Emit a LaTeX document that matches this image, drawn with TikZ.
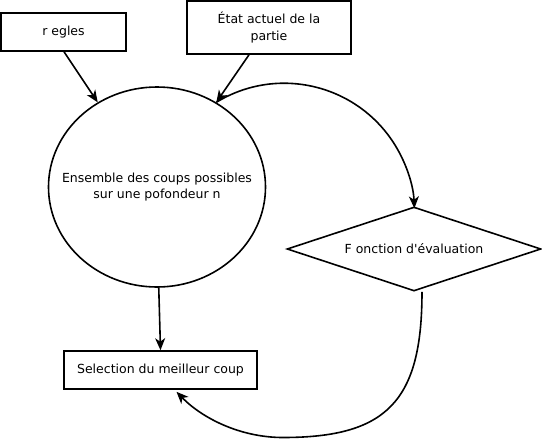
\documentclass[tikz,border=0pt]{standalone}
\usepackage{fontspec}
\newfontfamily\dv{DejaVu Sans}
\usetikzlibrary{shapes.geometric,arrows.meta}
\begin{document}
\begin{tikzpicture}[x=1pt,y=-1pt,
  every node/.style={font=\dv\fontsize{12.5}{16.5}\selectfont},
  boxnode/.style={draw,line width=1.6pt,inner sep=0pt,align=center},
  conn/.style={line width=1.6pt,-{Stealth[length=12pt,width=10pt,inset=3.5pt]}}]
\useasboundingbox (0,0) rectangle (542,440);
\node[boxnode,minimum width=125pt,minimum height=38pt] (r) at (63.5,32) {r egles};
\node[boxnode,minimum width=164pt,minimum height=53pt] (s) at (269,27.5) {État actuel de la\\partie};
\node[draw,ellipse,line width=1.6pt,inner sep=0pt,minimum width=217pt,minimum height=200pt] (e) at (157,187) {};
\node[align=center,inner sep=0pt] (et) at (e.center) {Ensemble des coups possibles\\sur une pofondeur n};
\node[draw,diamond,line width=1.6pt,inner sep=0pt,minimum width=254pt,minimum height=84pt,aspect=3] (d) at (414,249) {F onction d\textquotesingle évaluation};
\node[boxnode,minimum width=193pt,minimum height=38pt] (sel) at (160.5,370) {Selection du meilleur coup};
\coordinate (low) at (283,437.5);
\draw[conn] ([xshift=0.5pt]r.south) -- (e.125);
\draw[conn] ([xshift=-20pt]s.south) -- (e.55);
\draw[conn] (e.55) arc[start angle=-121.4, end angle=-2.3, radius=130.3];
\draw[conn] (e.-89) -- (sel.north);
\draw[conn] ([xshift=8pt]d.south) .. controls (422,401) and (387,437.5) .. (low)
  .. controls (240,437.5) and (202,418) .. ([xshift=16pt,yshift=-2pt]sel.south);
\end{tikzpicture}
\end{document}
